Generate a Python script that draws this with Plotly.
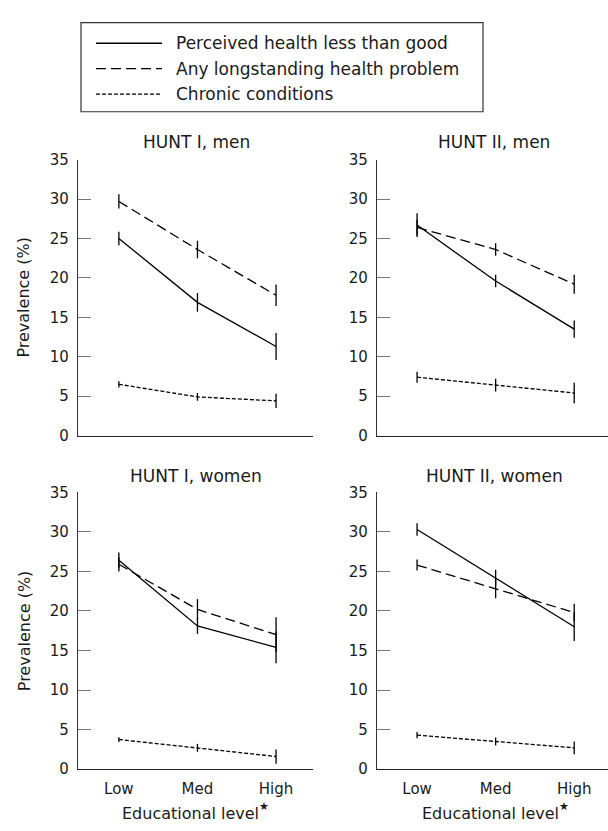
import plotly.graph_objects as go

W, H = 608, 831
levels = ["Low", "Med", "High"]
xpos = [0, 1, 2]

panels = ["HUNT I, men", "HUNT II, men", "HUNT I, women", "HUNT II, women"]
series_names = ["Perceived health less than good", "Any longstanding health problem", "Chronic conditions"]

# values per panel: [perceived, longstanding, chronic]
h1_men_perceived = [25.0, 16.9, 11.3]
h1_men_perceived_err = [0.85, 1.2, 1.7]
h1_men_longstanding = [29.7, 23.6, 17.8]
h1_men_longstanding_err = [0.9, 1.1, 1.35]
h1_men_chronic = [6.5, 4.9, 4.4]
h1_men_chronic_err = [0.4, 0.5, 0.9]

h2_men_perceived = [26.7, 19.6, 13.5]
h2_men_perceived_err = [1.5, 0.8, 1.1]
h2_men_longstanding = [26.4, 23.6, 19.2]
h2_men_longstanding_err = [1.0, 0.8, 1.2]
h2_men_chronic = [7.4, 6.4, 5.4]
h2_men_chronic_err = [0.7, 0.8, 1.3]

h1_women_perceived = [26.4, 18.1, 15.4]
h1_women_perceived_err = [1.0, 1.0, 2.0]
h1_women_longstanding = [25.9, 20.2, 17.0]
h1_women_longstanding_err = [0.9, 1.3, 2.2]
h1_women_chronic = [3.75, 2.7, 1.6]
h1_women_chronic_err = [0.3, 0.5, 0.9]

h2_women_perceived = [30.3, 24.2, 18.0]
h2_women_perceived_err = [0.8, 1.0, 1.8]
h2_women_longstanding = [25.8, 22.8, 19.8]
h2_women_longstanding_err = [0.7, 1.2, 1.1]
h2_women_chronic = [4.3, 3.5, 2.7]
h2_women_chronic_err = [0.4, 0.5, 0.8]

y_ticks = [0, 5, 10, 15, 20, 25, 30, 35]

data = [
    [(h1_men_perceived, h1_men_perceived_err), (h1_men_longstanding, h1_men_longstanding_err), (h1_men_chronic, h1_men_chronic_err)],
    [(h2_men_perceived, h2_men_perceived_err), (h2_men_longstanding, h2_men_longstanding_err), (h2_men_chronic, h2_men_chronic_err)],
    [(h1_women_perceived, h1_women_perceived_err), (h1_women_longstanding, h1_women_longstanding_err), (h1_women_chronic, h1_women_chronic_err)],
    [(h2_women_perceived, h2_women_perceived_err), (h2_women_longstanding, h2_women_longstanding_err), (h2_women_chronic, h2_women_chronic_err)],
]

dashes = ["solid", "10px,5px", "4px,2px"]
FONT = "DejaVu Sans"
TXT = "#1a1a1a"

def px(x):
    return x / W

def py(y):
    return 1 - y / H

fig = go.Figure()

# panel geometry in pixels: (x_axis_left, x_axis_right, y_top(35), y_bottom(0), xrange)
geo = [
    (78, 313, 154, 436, [-0.52, 2.47]),
    (377, 608, 154, 436, [-0.51, 2.43]),
    (78, 313, 494, 777, [-0.52, 2.47]),
    (377, 608, 494, 777, [-0.51, 2.43]),
]

for i, (pdata, g) in enumerate(zip(data, geo)):
    xa = "x" if i == 0 else f"x{i+1}"
    ya = "y" if i == 0 else f"y{i+1}"
    for (vals, errs), dash, name in zip(pdata, dashes, series_names):
        fig.add_trace(go.Scatter(
            x=xpos, y=vals, mode="lines", name=name, showlegend=False,
            line=dict(color="black", width=1.3, dash=dash),
            error_y=dict(type="data", array=errs, visible=True, color="black", thickness=1.3, width=0),
            xaxis=xa, yaxis=ya, hoverinfo="skip",
        ))
    x0, x1, yt, yb, xr = g
    bottom = i >= 2
    xkey = "xaxis" if i == 0 else f"xaxis{i+1}"
    ykey = "yaxis" if i == 0 else f"yaxis{i+1}"
    fig.layout[xkey] = dict(
        domain=[px(x0), px(x1)], range=xr, anchor=ya,
        showline=True, linecolor="#222", linewidth=1.3, showgrid=False, zeroline=False,
        ticks="", tickvals=xpos, ticktext=levels, showticklabels=bottom,
        tickfont=dict(family=FONT, size=15, color=TXT),
        ticklabelstandoff=6,
    )
    fig.layout[ykey] = dict(
        domain=[py(yb), py(yt)], range=[0, 35], anchor=xa,
        showline=True, linecolor="#333", linewidth=1.3, showgrid=False, zeroline=False,
        ticks="inside", ticklen=13, tickcolor="#777", tickwidth=1.3,
        tickvals=y_ticks, ticktext=[str(t) for t in y_ticks],
        tickfont=dict(family=FONT, size=15, color=TXT),
        ticklabelstandoff=5,
    )

anns = []
# panel titles
for title, cx, cy in [("HUNT I, men", 196, 136), ("HUNT II, men", 494, 136),
                      ("HUNT I, women", 196, 477), ("HUNT II, women", 494, 477)]:
    anns.append(dict(text=title, x=px(cx), y=py(cy), xref="paper", yref="paper",
                     showarrow=False, xanchor="center", yanchor="middle",
                     font=dict(family=FONT, size=17, color=TXT)))
# y axis titles
for cy in [295, 636]:
    anns.append(dict(text="Prevalence (%)", x=px(24), y=py(cy), xref="paper", yref="paper",
                     showarrow=False, textangle=-90, xanchor="center", yanchor="middle",
                     font=dict(family=FONT, size=16, color=TXT)))
# x axis titles with superscript star
for cx, sx in [(190, 257), (490, 557)]:
    anns.append(dict(text="Educational level", x=px(cx), y=py(822), xref="paper", yref="paper",
                     showarrow=False, xanchor="center", yanchor="middle",
                     font=dict(family=FONT, size=16, color=TXT)))
    anns.append(dict(text="★", x=px(sx), y=py(815), xref="paper", yref="paper",
                     showarrow=False, xanchor="left", yanchor="middle",
                     font=dict(family=FONT, size=11, color=TXT)))

# legend
shapes = [dict(type="rect", xref="paper", yref="paper", x0=px(81), x1=px(483), y0=py(105), y1=py(14),
               line=dict(color="#333", width=1.2), fillcolor="white")]
for name, dash, ry in zip(series_names, dashes, [35, 61, 87]):
    shapes.append(dict(type="line", xref="paper", yref="paper", x0=px(96), x1=px(162), y0=py(ry), y1=py(ry),
                       line=dict(color="black", width=1.3, dash=dash)))
    anns.append(dict(text=name, x=px(174), y=py(ry), xref="paper", yref="paper",
                     showarrow=False, xanchor="left", yanchor="middle",
                     font=dict(family=FONT, size=17, color=TXT)))

fig.update_layout(
    width=W, height=H, margin=dict(l=0, r=0, t=0, b=0),
    paper_bgcolor="white", plot_bgcolor="white",
    annotations=anns, shapes=shapes, showlegend=False,
)

fig.write_html("out.html", config={"displayModeBar": False},
               post_script="document.body.style.margin='0';document.body.style.overflow='hidden';")
